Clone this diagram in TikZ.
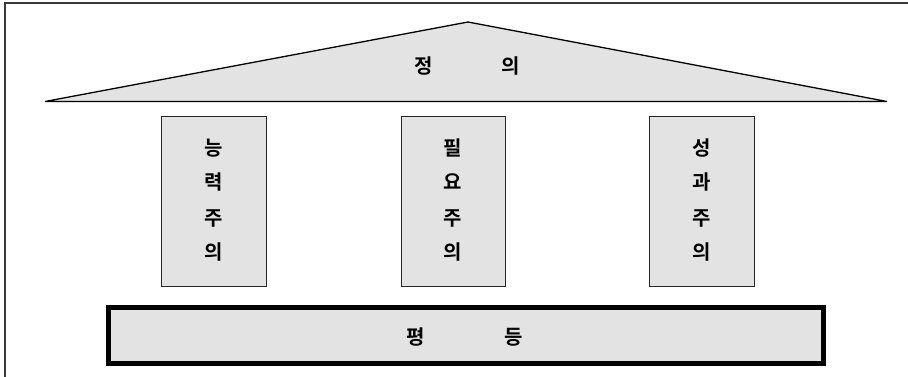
\documentclass[tikz,border=0pt]{standalone}
\usepackage{fontspec}
\newfontfamily\kr[BoldFont={Noto Sans CJK KR Bold}]{Noto Sans CJK KR}
\definecolor{fillgray}{HTML}{E3E3E3}
\definecolor{framegray}{HTML}{3A3A3A}
\tikzset{
  pillar/.style={draw=black!85, fill=fillgray, line width=1pt},
  lbl/.style={font=\kr\bfseries\fontsize{20}{20}\selectfont, inner sep=0pt, anchor=center},
}
\begin{document}
\begin{tikzpicture}[x=1pt,y=-1pt]
\useasboundingbox (0,0) rectangle (908,377);
% frame
\draw[framegray, line width=1.6pt] (5,377) -- (5,3) -- (908,3);
% roof
\coordinate (tl) at (45,101.5);
\coordinate (tr) at (887,101.5);
\coordinate (ta) at (468,22);
\draw[fill=fillgray, line width=1.3pt, line join=miter] (tl) -- (ta) -- (tr) -- cycle;
\node[lbl] (r1) at (424,66) {정};
\node[lbl] (r2) at (511,66) {의};
% pillars
\draw[pillar] (161.5,117) rectangle (266,286);
\draw[pillar] (401,117) rectangle (505,286);
\draw[pillar] (649,117) rectangle (754.5,286);
\foreach \cx/\a/\b/\c/\d/\n in {213.5/능/력/주/의/p1, 453/필/요/주/의/p2, 701.5/성/과/주/의/p3}{
  \node[lbl] (\n a) at (\cx,148) {\a};
  \node[lbl] (\n b) at (\cx,182) {\b};
  \node[lbl] (\n c) at (\cx,218) {\c};
  \node[lbl] (\n d) at (\cx,252) {\d};
}
% base
\draw[fill=fillgray, line width=5pt] (108.5,307.5) rectangle (823.5,363.5);
\node[lbl] (b1) at (416,337) {평};
\node[lbl] (b2) at (514,337) {등};
\end{tikzpicture}
\end{document}
